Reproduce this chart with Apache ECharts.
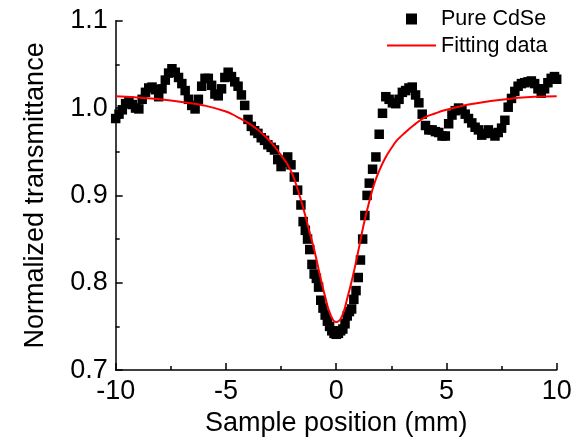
<!DOCTYPE html>
<html>
<head>
<meta charset="utf-8">
<script src="https://cdn.jsdelivr.net/npm/echarts@6/dist/echarts.min.js"></script>
<style>
  html, body { margin: 0; padding: 0; background: #fff; }
  #chart { width: 584px; height: 442px; }
</style>
</head>
<body>
<div id="chart"></div>
<script>
// measured points (sample position, mm)
var posX = [
  -10.0, -9.85, -9.7, -9.55, -9.4, -9.25, -9.1, -8.95, -8.8, -8.65,
  -8.5, -8.35, -8.2, -8.05, -7.9, -7.75, -7.6, -7.45, -7.3, -7.15,
  -7.0, -6.85, -6.7, -6.55, -6.4, -6.25, -6.1, -5.95, -5.8, -5.65,
  -5.5, -5.35, -5.2, -5.05, -4.9, -4.75, -4.6, -4.45, -4.3, -4.15,
  -4.0, -3.85, -3.7, -3.55, -3.4, -3.25, -3.1, -2.95, -2.8, -2.65,
  -2.5, -2.35, -2.2, -2.05, -1.9, -1.75, -1.6, -1.5, -1.4, -1.3,
  -1.2, -1.1, -1.0, -0.9, -0.8, -0.7, -0.6, -0.5, -0.4, -0.3,
  -0.2, -0.1, 0.0, 0.1, 0.2, 0.3, 0.4, 0.5, 0.6, 0.7,
  0.8, 0.9, 1.0, 1.1, 1.2, 1.3, 1.4, 1.5, 1.65, 1.8,
  1.95, 2.1, 2.25, 2.4, 2.55, 2.7, 2.85, 3.0, 3.15, 3.3,
  3.45, 3.6, 3.75, 3.9, 4.05, 4.2, 4.35, 4.5, 4.65, 4.8,
  4.95, 5.1, 5.25, 5.4, 5.55, 5.7, 5.85, 6.0, 6.15, 6.3,
  6.45, 6.6, 6.75, 6.9, 7.05, 7.2, 7.35, 7.5, 7.65, 7.8,
  7.95, 8.1, 8.25, 8.4, 8.55, 8.7, 8.85, 9.0, 9.15, 9.3,
  9.45, 9.6, 9.75, 9.9, 10.0
];
// normalized transmittance of pure CdSe
var transCdSe = [
  0.988, 0.993, 0.998, 1.005, 1.008, 1.004, 1.000, 0.999, 1.010, 1.018,
  1.023, 1.024, 1.021, 1.013, 1.022, 1.032, 1.040, 1.045, 1.041, 1.035,
  1.028, 1.020, 1.010, 1.003, 0.999, 1.010, 1.025, 1.034, 1.034, 1.026,
  1.016, 1.014, 1.022, 1.035, 1.041, 1.036, 1.030, 1.025, 1.015, 1.003,
  0.987, 0.979, 0.974, 0.971, 0.966, 0.963, 0.958, 0.955, 0.952, 0.941,
  0.933, 0.938, 0.944, 0.935, 0.921, 0.906, 0.889, 0.870, 0.860, 0.850,
  0.838, 0.821, 0.810, 0.805, 0.795, 0.780, 0.771, 0.763, 0.756, 0.750,
  0.745, 0.742, 0.741, 0.742, 0.745, 0.747, 0.753, 0.762, 0.767, 0.770,
  0.781, 0.791, 0.806, 0.826, 0.850, 0.877, 0.900, 0.914, 0.930, 0.944,
  0.970, 0.994, 1.013, 1.010, 1.006, 1.005, 1.010, 1.018, 1.020, 1.023,
  1.024, 1.015, 1.006, 0.993, 0.980, 0.975, 0.975, 0.973, 0.972, 0.968,
  0.968, 0.982, 0.992, 0.997, 1.000, 0.998, 0.993, 0.988, 0.983, 0.978,
  0.975, 0.969, 0.971, 0.975, 0.971, 0.968, 0.972, 0.977, 0.986, 1.001,
  1.011, 1.019, 1.025, 1.028, 1.029, 1.030, 1.031, 1.028, 1.022, 1.017,
  1.022, 1.029, 1.034, 1.036, 1.033
];
// fitted curve
var fitX = [
  -10, -9, -8, -7, -6, -5, -4.5, -4, -3.5, -3,
  -2.5, -2.25, -2, -1.75, -1.5, -1.25, -1, -0.75, -0.5, -0.25,
  0, 0.25, 0.5, 0.75, 1, 1.25, 1.5, 1.75, 2, 2.25,
  2.5, 2.75, 3, 3.5, 4, 4.5, 5, 6, 7, 8,
  9, 10
];
var fitY = [
  1.0135, 1.012, 1.010, 1.007, 1.003, 0.996, 0.990, 0.983, 0.974, 0.962,
  0.946, 0.937, 0.925, 0.907, 0.886, 0.862, 0.838, 0.810, 0.784, 0.763,
  0.755, 0.761, 0.782, 0.807, 0.836, 0.867, 0.893, 0.915, 0.931, 0.944,
  0.954, 0.963, 0.969, 0.980, 0.989, 0.994, 0.998, 1.004, 1.008, 1.011,
  1.013, 1.0135
];
var xTicks = { min: -10, max: 10, step: 5 };
var yTicks = { min: 0.7, max: 1.1, step: 0.1 };

function zip(a, b) {
  var out = [];
  for (var i = 0; i < a.length; i++) out.push([a[i], b[i]]);
  return out;
}

var chart = echarts.init(document.getElementById('chart'), null, { renderer: 'canvas' });

var font = 'Liberation Sans, Arial, sans-serif';
var axisLine = { show: true, onZero: false, lineStyle: { color: '#000', width: 1.5 } };

var option = {
  backgroundColor: '#fff',
  animation: false,
  grid: { left: 115.7, right: 27.3, top: 20.7, bottom: 65.3, containLabel: false },
  legend: {
    orient: 'vertical',
    left: 382,
    top: 3,
    itemWidth: 49,
    itemHeight: 11,
    itemGap: 4.6,
    symbolKeepAspect: true,
    textStyle: { fontFamily: font, fontSize: 21.5, color: '#000', lineHeight: 22 },
    data: [
      { name: 'Pure CdSe', icon: 'path://M0,0h10v10h-10z', itemStyle: { color: '#000', opacity: 1 } },
      { name: 'Fitting data', icon: 'path://M0,0h49v2h-49z', itemStyle: { color: '#ff0000' } }
    ]
  },
  xAxis: {
    type: 'value',
    min: xTicks.min,
    max: xTicks.max,
    interval: xTicks.step,
    name: 'Sample position (mm)',
    nameLocation: 'middle',
    nameGap: 35,
    nameTextStyle: { fontFamily: font, fontSize: 27, color: '#000' },
    axisLine: axisLine,
    axisTick: { show: true, inside: true, length: 7, lineStyle: { color: '#000', width: 1.5 } },
    minorTick: { show: true, splitNumber: 2, length: 4, lineStyle: { color: '#000', width: 1.5 } },
    axisLabel: { fontFamily: font, fontSize: 27, color: '#000', margin: 8 },
    splitLine: { show: false }
  },
  yAxis: {
    type: 'value',
    min: yTicks.min,
    max: yTicks.max,
    interval: yTicks.step,
    name: 'Normalized transmittance',
    nameLocation: 'middle',
    nameGap: 67,
    nameTextStyle: { fontFamily: font, fontSize: 27, color: '#000' },
    axisLine: axisLine,
    axisTick: { show: true, inside: true, length: 7, lineStyle: { color: '#000', width: 1.5 } },
    minorTick: { show: true, splitNumber: 2, length: 4, lineStyle: { color: '#000', width: 1.5 } },
    axisLabel: {
      fontFamily: font, fontSize: 27, color: '#000', margin: 8,
      formatter: function(v) { return v.toFixed(1); }
    },
    splitLine: { show: false }
  },
  series: [
    {
      name: 'Pure CdSe',
      type: 'scatter',
      symbol: 'rect',
      symbolSize: 9.5,
      itemStyle: { color: '#000', opacity: 1 },
      data: zip(posX, transCdSe),
      z: 2
    },
    {
      name: 'Fitting data',
      type: 'line',
      smooth: true,
      showSymbol: false,
      symbol: 'none',
      lineStyle: { color: '#ff0000', width: 2 },
      itemStyle: { color: '#ff0000' },
      data: zip(fitX, fitY),
      z: 3
    }
  ]
};

chart.setOption(option);
</script>
</body>
</html>
